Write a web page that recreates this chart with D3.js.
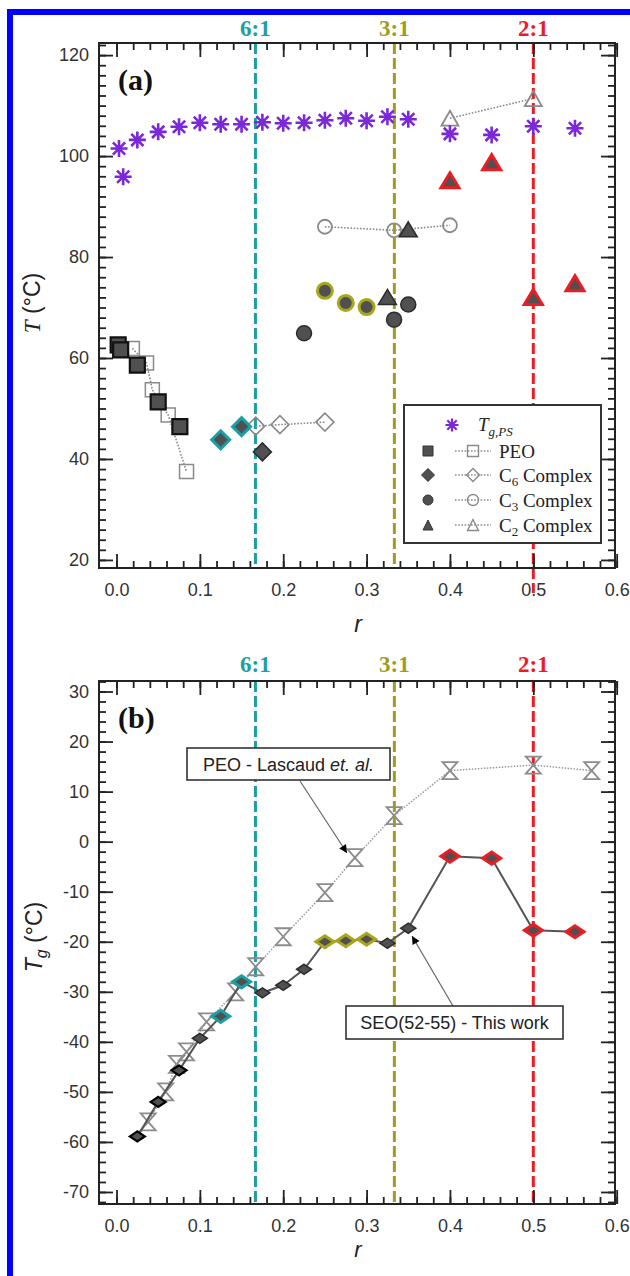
<!DOCTYPE html>
<html>
<head>
<meta charset="utf-8">
<script src="https://cdn.jsdelivr.net/npm/d3@7"></script>
<style>
  body { margin: 0; background: #fff; }
  svg { display: block; }
</style>
</head>
<body>
<div id="wrapper"></div>
<script>
// stoichiometric ratio guide lines
const ratioValues = [1 / 6, 1 / 3, 1 / 2];
const ratioLabels = ["6:1", "3:1", "2:1"];
const ratioColors = ["#1c9fa3", "#a09d1e", "#ec1c24"];

// x ticks (shared)
const xMajorTicks = [0, 0.1, 0.2, 0.3, 0.4, 0.5, 0.6];
const xMinorTicks = d3.range(0, 31).map((i) => i * 0.02);

// panel (a) y ticks
const aMajorTicks = [20, 40, 60, 80, 100, 120];
const aMinorTicks = d3.range(10, 62).map((i) => i * 2);

// panel (a) data
const tgPsR = [0.003, 0.008, 0.025, 0.05, 0.075, 0.1, 0.125, 0.15, 0.175, 0.2, 0.225, 0.25, 0.275, 0.3, 0.325, 0.35, 0.4, 0.45, 0.5, 0.55];
const tgPsT = [101.5, 95.9, 103.2, 104.8, 105.8, 106.6, 106.3, 106.3, 106.7, 106.5, 106.6, 107.1, 107.5, 107.0, 107.8, 107.3, 104.4, 104.2, 105.9, 105.5];

const peoFilledR = [0.002, 0.005, 0.025, 0.05, 0.076];
const peoFilledT = [62.6, 61.6, 58.6, 51.3, 46.4];
const peoOpenR = [0.019, 0.036, 0.043, 0.062, 0.084];
const peoOpenT = [61.9, 59.0, 53.7, 48.7, 37.5];

const c6FilledR = [0.125, 0.15, 0.175];
const c6FilledT = [43.8, 46.4, 41.4];
const c6FilledEdge = ["teal", "teal", "dark"];
const c6OpenR = [0.167, 0.196, 0.25];
const c6OpenT = [46.5, 46.8, 47.3];

const c3FilledR = [0.225, 0.25, 0.275, 0.3, 0.333, 0.35];
const c3FilledT = [64.9, 73.3, 70.9, 70.1, 67.6, 70.6];
const c3FilledEdge = ["dark", "olive", "olive", "olive", "dark", "dark"];
const c3OpenR = [0.25, 0.333, 0.4];
const c3OpenT = [86.0, 85.3, 86.3];

const c2FilledR = [0.325, 0.35, 0.4, 0.45, 0.5, 0.55];
const c2FilledT = [72.1, 85.5, 95.2, 98.8, 72.1, 74.8];
const c2FilledEdge = ["dark", "dark", "red", "red", "red", "red"];
const c2OpenR = [0.4, 0.5];
const c2OpenT = [107.5, 111.4];

// panel (b) y ticks
const bMajorTicks = [-70, -60, -50, -40, -30, -20, -10, 0, 10, 20, 30];
const bMinorTicks = d3.range(-36, 17).map((i) => i * 2);

// panel (b) data
const seoR = [0.025, 0.05, 0.075, 0.1, 0.125, 0.15, 0.175, 0.2, 0.225, 0.25, 0.275, 0.3, 0.325, 0.35, 0.4, 0.45, 0.5, 0.55];
const seoTg = [-58.9, -52.0, -45.7, -39.3, -34.9, -28.0, -30.2, -28.7, -25.5, -20.0, -19.8, -19.5, -20.3, -17.3, -2.9, -3.3, -17.7, -18.0];
const seoEdge = ["black", "black", "black", "dark", "teal", "teal", "dark", "dark", "dark", "olive", "olive", "olive", "dark", "dark", "red", "red", "red", "red"];

const lascaudR = [0.038, 0.059, 0.072, 0.084, 0.108, 0.143, 0.167, 0.2, 0.25, 0.286, 0.333, 0.4, 0.5, 0.57];
const lascaudTg = [-56, -50, -44.5, -42, -36, -30, -25, -19, -10.2, -3.2, 5.2, 14.2, 15.3, 14.2];

const legendLabels = ["PEO", "C6 Complex", "C3 Complex", "C2 Complex"];

function drawChart() {
  const dimensions = {
    width: 630,
    height: 1276,
    left: 99,
    right: 615,
    a: { top: 43, bottom: 568 },
    b: { top: 681, bottom: 1204 },
  };

  const edgeColors = {
    dark: "#2b2b2b",
    black: "#000",
    teal: "#1c9fa3",
    olive: "#a9a61a",
    red: "#ec1c24",
  };
  const fillGrey = "#505050";
  const openGrey = "#8a8a8a";
  const purple = "#7a28d8";

  const svg = d3
    .select("#wrapper")
    .append("svg")
    .attr("width", dimensions.width)
    .attr("height", dimensions.height);

  // blue frame
  svg.append("rect").attr("x", 7).attr("y", 9).attr("width", 6).attr("height", 1267).attr("fill", "#0000ff");
  svg.append("rect").attr("x", 7).attr("y", 9).attr("width", 623).attr("height", 6).attr("fill", "#0000ff");

  const xScale = d3
    .scaleLinear()
    .domain([-0.021, 0.598])
    .range([dimensions.left, dimensions.right]);

  const shape = (type, w, h) => {
    switch (type) {
      case "square":
        return `M${-w},${-h}H${w}V${h}H${-w}Z`;
      case "diamond":
        return `M0,${-h}L${w},0L0,${h}L${-w},0Z`;
      case "circle":
        return `M${-w},0A${w},${w} 0 1,0 ${w},0A${w},${w} 0 1,0 ${-w},0Z`;
      case "triangle":
        return `M0,${-h}L${w},${h}L${-w},${h}Z`;
      case "hourglass":
        return `M${-w},${-h}H${w}L${-w},${h}H${w}Z`;
      case "asterisk": {
        const d = w * 0.72;
        return `M0,${-h}V${h}M${-w},0H${w}M${-d},${-d}L${d},${d}M${d},${-d}L${-d},${d}`;
      }
    }
  };

  // plain hyphen for negatives, like the original
  const intFormat = (d) => String(d);

  function drawFrame(panel, yScale, majorTicks, minorTicks) {
    const g = svg.append("g");
    const top = panel.top;
    const bottom = panel.bottom;

    const addAxis = (axis, transform) => {
      const a = g.append("g").attr("transform", transform).call(axis);
      a.select(".domain").remove();
      a.selectAll("line").attr("stroke", "#222").attr("stroke-width", 1.8);
      a.selectAll("text")
        .attr("fill", "#333")
        .style("font-family", "'Liberation Sans', Arial, sans-serif")
        .style("font-size", "18px");
      return a;
    };

    addAxis(
      d3.axisBottom(xScale).tickValues(xMajorTicks).tickSize(-14).tickPadding(15).tickFormat(d3.format(".1f")),
      `translate(0,${bottom})`
    );
    addAxis(d3.axisBottom(xScale).tickValues(xMinorTicks).tickSize(-7).tickFormat(""), `translate(0,${bottom})`);
    addAxis(d3.axisTop(xScale).tickValues(xMajorTicks).tickSize(-14).tickFormat(""), `translate(0,${top})`);
    addAxis(d3.axisTop(xScale).tickValues(xMinorTicks).tickSize(-7).tickFormat(""), `translate(0,${top})`);

    addAxis(
      d3.axisLeft(yScale).tickValues(majorTicks).tickSize(-14).tickPadding(10).tickFormat(intFormat),
      `translate(${dimensions.left},0)`
    );
    addAxis(d3.axisLeft(yScale).tickValues(minorTicks).tickSize(-7).tickFormat(""), `translate(${dimensions.left},0)`);
    addAxis(d3.axisRight(yScale).tickValues(majorTicks).tickSize(-14).tickFormat(""), `translate(${dimensions.right},0)`);
    addAxis(d3.axisRight(yScale).tickValues(minorTicks).tickSize(-7).tickFormat(""), `translate(${dimensions.right},0)`);

    g.append("rect")
      .attr("x", dimensions.left)
      .attr("y", top)
      .attr("width", dimensions.right - dimensions.left)
      .attr("height", bottom - top)
      .attr("fill", "none")
      .attr("stroke", "#222")
      .attr("stroke-width", 2);
  }

  function drawRatioLines(panel, labelY, extendRed) {
    const g = svg.append("g");
    ratioValues.forEach((v, i) => {
      const endY = extendRed && i === 2 ? panel.bottom + 25 : panel.bottom;
      g.append("line")
        .attr("x1", xScale(v))
        .attr("x2", xScale(v))
        .attr("y1", panel.top)
        .attr("y2", endY)
        .attr("stroke", ratioColors[i])
        .attr("stroke-width", 3)
        .attr("stroke-dasharray", "11,4");
      g.append("text")
        .attr("x", xScale(v))
        .attr("y", labelY)
        .attr("text-anchor", "middle")
        .attr("fill", ratioColors[i])
        .style("font-family", "'Liberation Serif', 'Times New Roman', serif")
        .style("font-weight", "700")
        .style("font-size", "23px")
        .text(ratioLabels[i]);
    });
  }

  function drawSeries(g, rs, vs, yScale, opts) {
    const pts = rs.map((r, i) => ({ r, v: vs[i], edge: opts.edges ? opts.edges[i] : null }));
    if (opts.line) {
      g.append("path")
        .datum(pts)
        .attr("fill", "none")
        .attr("stroke", opts.line.color)
        .attr("stroke-width", opts.line.width)
        .attr("stroke-dasharray", opts.line.dash || null)
        .attr("d", d3.line().x((d) => xScale(d.r)).y((d) => yScale(d.v)));
    }
    g.selectAll(null)
      .data(pts)
      .join("path")
      .attr("transform", (d) => `translate(${xScale(d.r)},${yScale(d.v)})`)
      .attr("d", (d) => {
        const big = d.edge && d.edge !== "dark" && d.edge !== "black" && opts.grow;
        return shape(opts.shape, opts.w + (big ? opts.grow : 0), opts.h + (big ? opts.grow * 0.7 : 0));
      })
      .attr("fill", opts.fill)
      .attr("stroke", (d) => (d.edge ? edgeColors[d.edge] : opts.stroke))
      .attr("stroke-width", (d) => {
        if (!d.edge) return opts.strokeWidth;
        if (d.edge === "dark") return 1.5;
        if (d.edge === "black") return 2.2;
        return 3;
      });
  }

  // ---------- panel (a) ----------
  const yA = d3.scaleLinear().domain([18.4, 122.4]).range([dimensions.a.bottom, dimensions.a.top]);
  drawRatioLines(dimensions.a, 36, true);
  drawFrame(dimensions.a, yA, aMajorTicks, aMinorTicks);

  const dotted = { color: openGrey, width: 1.6, dash: "1.6,1.6" };
  const plotA = svg.append("g");

  drawSeries(plotA, peoOpenR, peoOpenT, yA, { shape: "square", w: 7, h: 7, fill: "none", stroke: openGrey, strokeWidth: 1.5, line: dotted });
  drawSeries(plotA, peoFilledR, peoFilledT, yA, { shape: "square", w: 7.5, h: 7.5, fill: fillGrey, stroke: "#111", strokeWidth: 2.2 });
  drawSeries(plotA, c6OpenR, c6OpenT, yA, { shape: "diamond", w: 9, h: 9, fill: "none", stroke: openGrey, strokeWidth: 1.6, line: dotted });
  drawSeries(plotA, c6FilledR, c6FilledT, yA, { shape: "diamond", w: 9, h: 9, fill: fillGrey, edges: c6FilledEdge });
  drawSeries(plotA, c3OpenR, c3OpenT, yA, { shape: "circle", w: 7, h: 7, fill: "none", stroke: openGrey, strokeWidth: 1.8, line: dotted });
  drawSeries(plotA, c3FilledR, c3FilledT, yA, { shape: "circle", w: 7.5, h: 7.5, fill: fillGrey, edges: c3FilledEdge });
  drawSeries(plotA, c2OpenR, c2OpenT, yA, { shape: "triangle", w: 8.5, h: 7.5, fill: "none", stroke: openGrey, strokeWidth: 1.8, line: dotted });
  drawSeries(plotA, c2FilledR, c2FilledT, yA, { shape: "triangle", w: 9, h: 7.5, fill: fillGrey, edges: c2FilledEdge });
  drawSeries(plotA, tgPsR, tgPsT, yA, { shape: "asterisk", w: 8.5, h: 8.5, fill: "none", stroke: purple, strokeWidth: 2.6 });

  svg.append("text")
    .attr("x", 118)
    .attr("y", 90)
    .style("font-family", "'Liberation Serif', 'Times New Roman', serif")
    .style("font-weight", "700")
    .style("font-size", "30px")
    .attr("fill", "#111")
    .text("(a)");

  // legend
  const legend = svg.append("g");
  legend.append("rect")
    .attr("x", 404).attr("y", 405).attr("width", 197).attr("height", 138)
    .attr("fill", "#fff").attr("stroke", "#333").attr("stroke-width", 2);
  legend.append("path")
    .attr("transform", "translate(452,425)")
    .attr("d", shape("asterisk", 6.5, 6.5))
    .attr("fill", "none").attr("stroke", purple).attr("stroke-width", 2.2);
  const tLabel = legend.append("text")
    .attr("x", 478).attr("y", 431)
    .attr("fill", "#222")
    .style("font-family", "'Liberation Serif', 'Times New Roman', serif")
    .style("font-size", "19px")
    .style("font-style", "italic");
  tLabel.append("tspan").text("T");
  tLabel.append("tspan").attr("dy", 5).style("font-size", "13px").text("g,PS");

  const legendShapes = ["square", "diamond", "circle", "triangle"];
  const legendRows = [451, 475, 500, 525];
  legendLabels.forEach((label, i) => {
    const yy = legendRows[i];
    const s = legendShapes[i];
    legend.append("path")
      .attr("transform", `translate(428,${yy})`)
      .attr("d", s === "diamond" ? shape(s, 6.5, 6.5) : shape(s, 5, 5))
      .attr("fill", fillGrey).attr("stroke", "#333").attr("stroke-width", 1);
    legend.append("line")
      .attr("x1", 455).attr("x2", 491).attr("y1", yy).attr("y2", yy)
      .attr("stroke", openGrey).attr("stroke-width", 1.6).attr("stroke-dasharray", "1.6,1.6");
    legend.append("path")
      .attr("transform", `translate(473,${yy})`)
      .attr("d", s === "diamond" ? shape(s, 6.5, 6.5) : shape(s, 5.5, 5.5))
      .attr("fill", "none").attr("stroke", openGrey).attr("stroke-width", 1.4);
    const t = legend.append("text")
      .attr("x", 499).attr("y", yy + 6.5)
      .attr("fill", "#222")
      .style("font-family", "'Liberation Serif', 'Times New Roman', serif")
      .style("font-size", "19px");
    if (label.startsWith("C")) {
      t.append("tspan").text("C");
      t.append("tspan").attr("dy", 4).style("font-size", "13px").text(label[1]);
      t.append("tspan").attr("dy", -4).text(label.slice(2));
    } else {
      t.text(label);
    }
  });

  const sans = "'Liberation Sans', Arial, sans-serif";
  const yLabelA = svg.append("text")
    .attr("transform", "translate(40,303) rotate(-90)")
    .attr("text-anchor", "middle")
    .attr("fill", "#222")
    .style("font-family", sans)
    .style("font-size", "23px");
  yLabelA.append("tspan").style("font-family", "'Liberation Serif', serif").style("font-style", "italic").text("T");
  yLabelA.append("tspan").text(" (°C)");

  svg.append("text")
    .attr("x", 358).attr("y", 632)
    .attr("text-anchor", "middle")
    .attr("fill", "#222")
    .style("font-family", sans)
    .style("font-style", "italic")
    .style("font-size", "23px")
    .text("r");

  // ---------- panel (b) ----------
  const yB = d3.scaleLinear().domain([-72.4, 32.1]).range([dimensions.b.bottom, dimensions.b.top]);
  drawRatioLines(dimensions.b, 672, false);
  drawFrame(dimensions.b, yB, bMajorTicks, bMinorTicks);

  const plotB = svg.append("g");
  drawSeries(plotB, lascaudR, lascaudTg, yB, {
    shape: "hourglass", w: 7.5, h: 8.5, fill: "none", stroke: "#8c8c8c", strokeWidth: 1.8,
    line: { color: "#9a9a9a", width: 1.5, dash: "1.5,1.5" },
  });
  drawSeries(plotB, seoR, seoTg, yB, {
    shape: "diamond", w: 7.5, h: 5, grow: 1.5, fill: fillGrey, edges: seoEdge,
    line: { color: "#555", width: 2 },
  });

  svg.append("text")
    .attr("x", 118)
    .attr("y", 728)
    .style("font-family", "'Liberation Serif', 'Times New Roman', serif")
    .style("font-weight", "700")
    .style("font-size", "30px")
    .attr("fill", "#111")
    .text("(b)");

  // annotations
  svg.append("defs")
    .append("marker")
    .attr("id", "arrow")
    .attr("viewBox", "0 0 10 10")
    .attr("refX", 10).attr("refY", 5)
    .attr("markerWidth", 11).attr("markerHeight", 8)
    .attr("markerUnits", "userSpaceOnUse")
    .attr("orient", "auto")
    .append("path")
    .attr("d", "M0,0L10,5L0,10Z")
    .attr("fill", "#000");

  const notes = [
    { box: [187, 748, 203, 32], from: [300, 781], to: [347, 853], parts: [["PEO - Lascaud ", "normal"], ["et. al.", "italic"]] },
    { box: [346, 1006, 217, 33], from: [453, 1006], to: [412, 936], parts: [["SEO(52-55) - This work", "normal"]] },
  ];
  notes.forEach((n) => {
    svg.append("line")
      .attr("x1", n.from[0]).attr("y1", n.from[1])
      .attr("x2", n.to[0]).attr("y2", n.to[1])
      .attr("stroke", "#666").attr("stroke-width", 1.2)
      .attr("marker-end", "url(#arrow)");
    svg.append("rect")
      .attr("x", n.box[0]).attr("y", n.box[1]).attr("width", n.box[2]).attr("height", n.box[3])
      .attr("fill", "#fff").attr("stroke", "#333").attr("stroke-width", 1.6);
    const t = svg.append("text")
      .attr("x", n.box[0] + n.box[2] / 2)
      .attr("y", n.box[1] + n.box[3] / 2 + 6.5)
      .attr("text-anchor", "middle")
      .attr("fill", "#222")
      .style("font-family", sans)
      .style("font-size", "18px");
    n.parts.forEach((p) => t.append("tspan").style("font-style", p[1]).text(p[0]));
  });

  const yLabelB = svg.append("text")
    .attr("transform", "translate(42,937) rotate(-90)")
    .attr("text-anchor", "middle")
    .attr("fill", "#222")
    .style("font-family", sans)
    .style("font-size", "23px");
  yLabelB.append("tspan").style("font-style", "italic").text("T");
  yLabelB.append("tspan").attr("dy", 5).style("font-style", "italic").style("font-size", "16px").text("g");
  yLabelB.append("tspan").attr("dy", -5).text(" (°C)");

  svg.append("text")
    .attr("x", 358).attr("y", 1257)
    .attr("text-anchor", "middle")
    .attr("fill", "#222")
    .style("font-family", sans)
    .style("font-style", "italic")
    .style("font-size", "22px")
    .text("r");
}
drawChart();
</script>
</body>
</html>
